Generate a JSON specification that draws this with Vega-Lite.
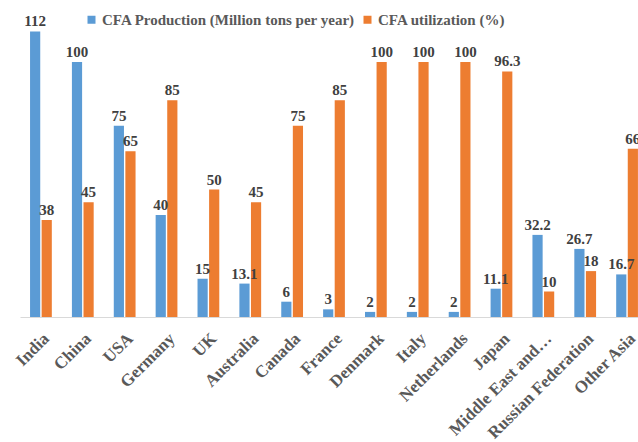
{
  "$schema": "https://vega.github.io/schema/vega-lite/v6.json",
  "width": 618,
  "height": 306,
  "autosize": {"type": "none"},
  "padding": {"left": 20, "top": 11, "right": 0, "bottom": 125},
  "background": "white",
  "config": {
    "view": {"stroke": null},
    "font": "Liberation Serif"
  },
  "data": {
    "values": [
      {"country": "India", "series": "CFA Production (Million tons per year)", "value": 112},
      {"country": "India", "series": "CFA utilization (%)", "value": 38},
      {"country": "China", "series": "CFA Production (Million tons per year)", "value": 100},
      {"country": "China", "series": "CFA utilization (%)", "value": 45},
      {"country": "USA", "series": "CFA Production (Million tons per year)", "value": 75},
      {"country": "USA", "series": "CFA utilization (%)", "value": 65},
      {"country": "Germany", "series": "CFA Production (Million tons per year)", "value": 40},
      {"country": "Germany", "series": "CFA utilization (%)", "value": 85},
      {"country": "UK", "series": "CFA Production (Million tons per year)", "value": 15},
      {"country": "UK", "series": "CFA utilization (%)", "value": 50},
      {"country": "Australia", "series": "CFA Production (Million tons per year)", "value": 13.1},
      {"country": "Australia", "series": "CFA utilization (%)", "value": 45},
      {"country": "Canada", "series": "CFA Production (Million tons per year)", "value": 6},
      {"country": "Canada", "series": "CFA utilization (%)", "value": 75},
      {"country": "France", "series": "CFA Production (Million tons per year)", "value": 3},
      {"country": "France", "series": "CFA utilization (%)", "value": 85},
      {"country": "Denmark", "series": "CFA Production (Million tons per year)", "value": 2},
      {"country": "Denmark", "series": "CFA utilization (%)", "value": 100},
      {"country": "Italy", "series": "CFA Production (Million tons per year)", "value": 2},
      {"country": "Italy", "series": "CFA utilization (%)", "value": 100},
      {"country": "Netherlands", "series": "CFA Production (Million tons per year)", "value": 2},
      {"country": "Netherlands", "series": "CFA utilization (%)", "value": 100},
      {"country": "Japan", "series": "CFA Production (Million tons per year)", "value": 11.1},
      {"country": "Japan", "series": "CFA utilization (%)", "value": 96.3},
      {"country": "Middle East and…", "series": "CFA Production (Million tons per year)", "value": 32.2},
      {"country": "Middle East and…", "series": "CFA utilization (%)", "value": 10},
      {"country": "Russian Federation", "series": "CFA Production (Million tons per year)", "value": 26.7},
      {"country": "Russian Federation", "series": "CFA utilization (%)", "value": 18},
      {"country": "Other Asia", "series": "CFA Production (Million tons per year)", "value": 16.7},
      {"country": "Other Asia", "series": "CFA utilization (%)", "value": 66}
    ]
  },
  "encoding": {
    "x": {
      "field": "country",
      "type": "nominal",
      "sort": null,
      "title": null,
      "scale": {"range": [0, 628], "paddingInner": 0.48, "paddingOuter": 0.24},
      "axis": {
        "labelAngle": -45,
        "labelFont": "Liberation Serif",
        "labelFontWeight": "bold",
        "labelFontSize": 17,
        "labelColor": "#595959",
        "labelPadding": 13,
        "labelDx": 2,
        "ticks": false,
        "domainColor": "#d9d9d9",
        "domainWidth": 1,
        "labelOverlap": false,
        "labelLimit": 300
      }
    },
    "xOffset": {
      "field": "series",
      "type": "nominal",
      "sort": ["CFA Production (Million tons per year)", "CFA utilization (%)"],
      "scale": {"paddingInner": 0.12}
    },
    "y": {
      "field": "value",
      "type": "quantitative",
      "scale": {"domain": [0, 120], "nice": false},
      "axis": null
    }
  },
  "layer": [
    {
      "mark": {"type": "bar"},
      "encoding": {
        "color": {
          "field": "series",
          "type": "nominal",
          "sort": ["CFA Production (Million tons per year)", "CFA utilization (%)"],
          "scale": {
            "domain": ["CFA Production (Million tons per year)", "CFA utilization (%)"],
            "range": ["#5B9BD5", "#ED7D31"]
          },
          "legend": {
            "title": null,
            "orient": "none",
            "direction": "horizontal",
            "legendX": 64,
            "legendY": 1,
            "symbolType": "square",
            "symbolSize": 64,
            "symbolStrokeWidth": 0,
            "labelFont": "Liberation Serif",
            "labelFontWeight": "bold",
            "labelFontSize": 15,
            "labelColor": "#595959",
            "labelOffset": 3,
            "columnPadding": 4,
            "labelLimit": 400
          }
        }
      }
    },
    {
      "mark": {
        "type": "text",
        "baseline": "alphabetic",
        "dy": -5,
        "font": "Liberation Serif",
        "fontWeight": "bold",
        "fontSize": 15,
        "color": "#404040"
      },
      "encoding": {
        "text": {"field": "value", "type": "quantitative"}
      }
    }
  ]
}
